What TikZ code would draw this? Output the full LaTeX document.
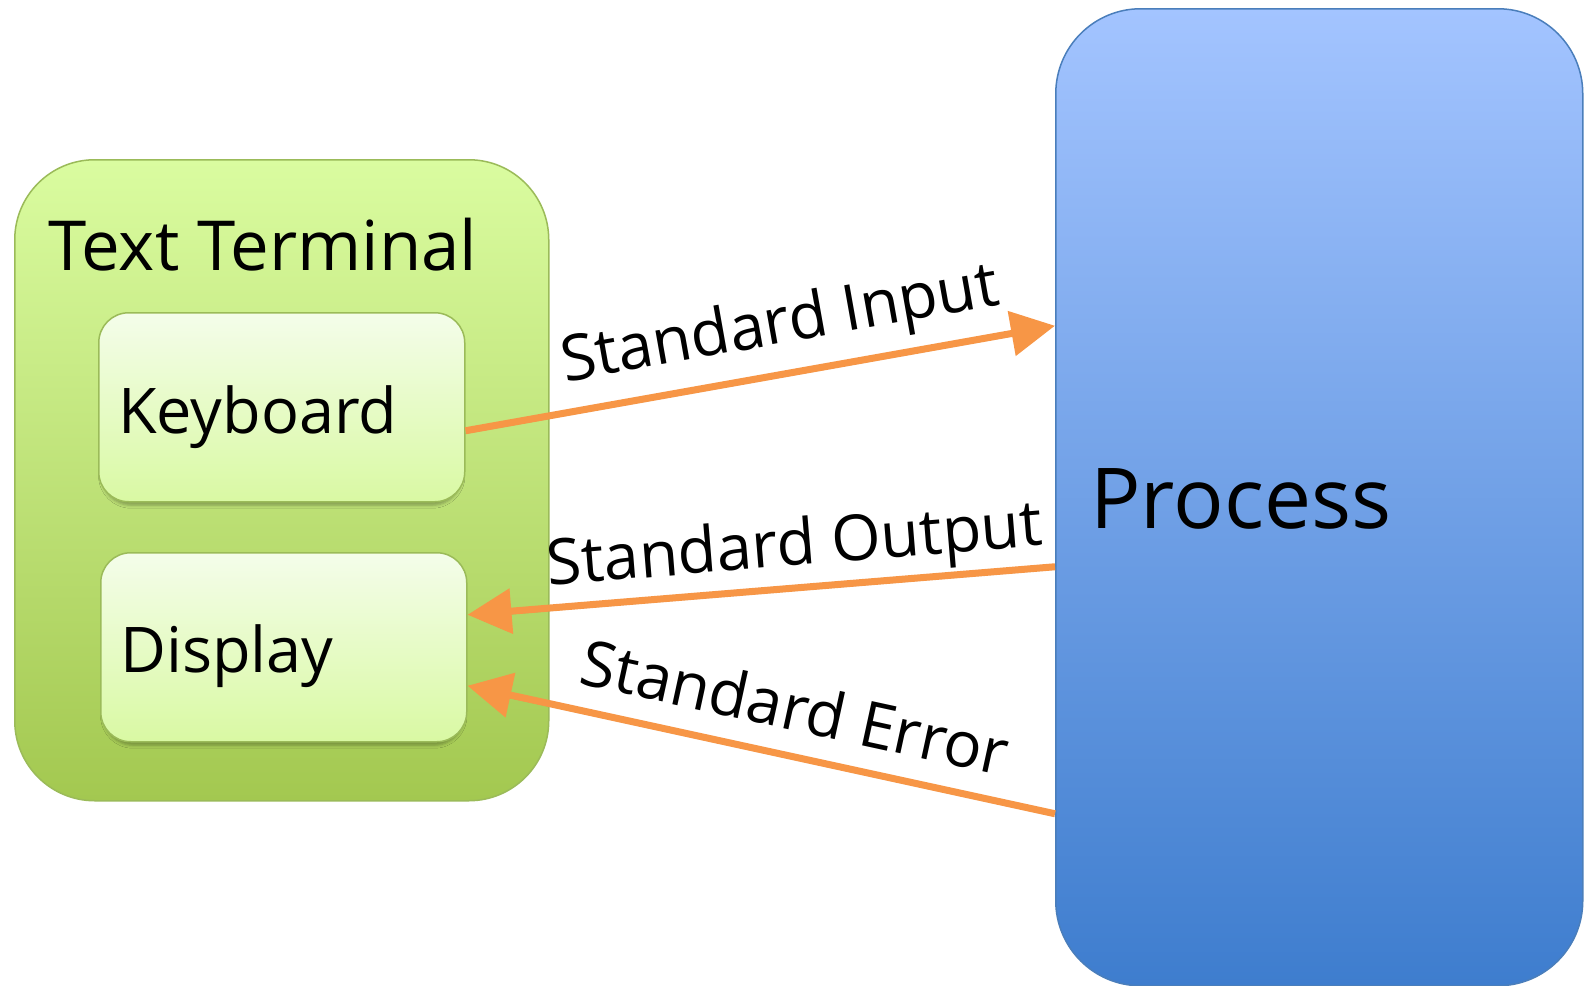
\documentclass[tikz,border=0pt]{standalone}
\usepackage{fontspec}
\setmainfont{Open Sans}
\usetikzlibrary{arrows.meta,shadows.blur}

\definecolor{termTop}{HTML}{DAFCA0}
\definecolor{termBot}{HTML}{A3C850}
\definecolor{termLine}{HTML}{9BBB59}
\definecolor{devTop}{HTML}{F4FDEA}
\definecolor{devBot}{HTML}{D9F9A3}
\definecolor{procTop}{HTML}{A3C4FF}
\definecolor{procBot}{HTML}{3E7DCE}
\definecolor{procLine}{HTML}{4A7EBB}
\definecolor{streamCol}{HTML}{F79646}

\tikzset{
  terminalbox/.style={draw=termLine, line width=1.5pt, top color=termTop, bottom color=termBot,
    rounded corners=80pt, inner sep=0pt, anchor=north west},
  devicebox/.style={draw=termLine, line width=1.5pt, top color=devTop, bottom color=devBot,
    rounded corners=30pt, inner sep=0pt, anchor=north west,
    minimum width=366pt, minimum height=189pt,
    blur shadow={shadow xshift=0pt, shadow yshift=-5pt, shadow blur radius=3pt,
      shadow scale=0.985, shadow opacity=30}},
  processbox/.style={draw=procLine, line width=1.5pt, top color=procTop, bottom color=procBot,
    rounded corners=85pt, inner sep=0pt, anchor=north west},
  caption/.style={inner sep=0pt, anchor=base west, text=black},
  stream/.style={draw=streamCol, line width=7pt,
    -{Triangle[length=44pt, width=44pt]},
    preaction={draw=black, draw opacity=.15, transform canvas={yshift=-3pt}}},
  streamlabel/.style={sloped, inner sep=0pt, text depth=0pt, font=\fontsize{63.5}{70}\selectfont, text=black},
}

\begin{document}
\begin{tikzpicture}[x=1pt, y=-1pt]
  \useasboundingbox (0,0) rectangle (1584,985);
  \fill[white] (0,0) rectangle (1584,985);

  % terminal with its two devices
  \node[terminalbox, minimum width=534pt, minimum height=641pt] (term) at (14,159) {};
  \node[caption, font=\fontsize{69}{76}\selectfont] (termtext) at (48,270) {Text Terminal};
  \node[devicebox] (kbd) at (98,312) {};
  \node[caption, font=\fontsize{63}{70}\selectfont] (kbdtext) at (118,433) {Keyboard};
  \node[devicebox] (disp) at (100,552) {};
  \node[caption, font=\fontsize{63}{70}\selectfont] (disptext) at (120,672) {Display};

  % the running process
  \node[processbox, minimum width=527pt, minimum height=977pt] (proc) at (1055,8) {};
  \node[caption, font=\fontsize{84}{92}\selectfont] (proctext) at (1090,528) {Process};

  % the three standard streams
  \draw[stream] ([yshift=-23.5pt]kbd.east) -- ([yshift=171.5pt]proc.west)
    node[streamlabel, pos=0.548, above=27pt] (inlabel) {Standard Input};
  \draw[stream] ([yshift=-69.5pt]proc.west) -- ([yshift=32.5pt]disp.east)
    node[streamlabel, pos=0.437, above=19pt] (outlabel) {Standard Output};
  \draw[stream] ([yshift=-316.5pt]proc.west) -- ([yshift=-38.5pt]disp.east)
    node[streamlabel, pos=0.46, above=22pt] (errlabel) {Standard Error};
\end{tikzpicture}
\end{document}
